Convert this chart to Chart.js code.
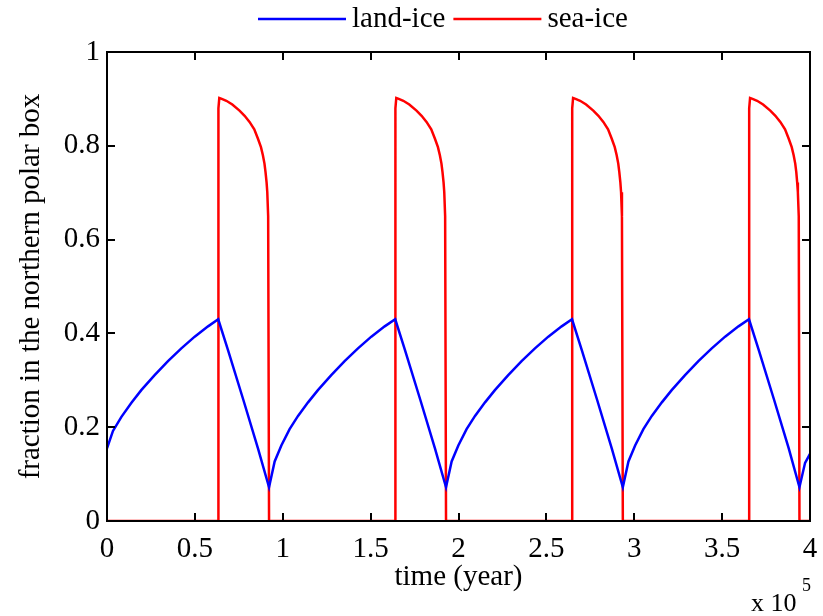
<!DOCTYPE html>
<html>
<head>
<meta charset="utf-8">
<script src="https://cdn.jsdelivr.net/npm/chart.js@4/dist/chart.umd.min.js"></script>
<style>
  html, body { margin: 0; padding: 0; background: #ffffff; }
  #wrap { width: 823px; height: 616px; position: relative; }
</style>
</head>
<body>
<div id="wrap"><canvas id="c" width="823" height="616"></canvas></div>
<script>
// ---- data (time in units of 10^5 years) ----
const seriesNames = ['land-ice', 'sea-ice'];
const seriesColors = ['#0000ff', '#ff0000'];

const landIceTime = [
  0.000, 0.034, 0.082, 0.139, 0.195, 0.271, 0.347, 0.423, 0.499, 0.575, 0.633,
  0.689, 0.776, 0.859, 0.922,
  0.954, 0.992, 1.039, 1.087, 1.144, 1.200, 1.276, 1.352, 1.428, 1.504, 1.580, 1.640,
  1.696, 1.783, 1.866, 1.929,
  1.961, 1.999, 2.046, 2.094, 2.151, 2.207, 2.283, 2.359, 2.435, 2.511, 2.587, 2.646,
  2.702, 2.789, 2.872, 2.935,
  2.967, 3.005, 3.052, 3.100, 3.157, 3.213, 3.289, 3.365, 3.441, 3.517, 3.593, 3.653,
  3.709, 3.796, 3.879, 3.940,
  3.972, 4.000
];
const landIceValue = [
  0.155, 0.192, 0.222, 0.252, 0.279, 0.311, 0.341, 0.368, 0.393, 0.415, 0.430,
  0.364, 0.258, 0.155, 0.072,
  0.127, 0.161, 0.196, 0.224, 0.253, 0.279, 0.311, 0.341, 0.368, 0.393, 0.415, 0.430,
  0.364, 0.258, 0.155, 0.072,
  0.127, 0.161, 0.196, 0.224, 0.253, 0.279, 0.311, 0.341, 0.368, 0.393, 0.415, 0.430,
  0.364, 0.258, 0.155, 0.072,
  0.127, 0.161, 0.196, 0.224, 0.253, 0.279, 0.311, 0.341, 0.368, 0.393, 0.415, 0.430,
  0.364, 0.258, 0.155, 0.072,
  0.124, 0.143
];

const seaIceTime = [
  0.000,
  0.633, 0.634, 0.639, 0.653, 0.679, 0.713, 0.754, 0.783, 0.811, 0.838, 0.859, 0.876, 0.887, 0.896, 0.902, 0.908, 0.912, 0.917, 0.922,
  1.640, 1.641, 1.646, 1.660, 1.686, 1.720, 1.761, 1.790, 1.818, 1.845, 1.866, 1.883, 1.894, 1.903, 1.909, 1.915, 1.919, 1.924, 1.929,
  2.646, 2.647, 2.652, 2.666, 2.692, 2.726, 2.767, 2.796, 2.824, 2.851, 2.872, 2.889, 2.900, 2.909, 2.915, 2.921, 2.925, 2.930, 2.935,
  3.653, 3.654, 3.659, 3.673, 3.699, 3.733, 3.774, 3.803, 3.831, 3.858, 3.879, 3.896, 3.907, 3.916, 3.922, 3.927, 3.931, 3.936, 3.940,
  4.000
];
const seaIceValue = [
  0,
  0, 0.880, 0.902, 0.900, 0.896, 0.888, 0.875, 0.864, 0.851, 0.835, 0.815, 0.797, 0.780, 0.762, 0.744, 0.722, 0.701, 0.650, 0,
  0, 0.880, 0.902, 0.900, 0.896, 0.888, 0.875, 0.864, 0.851, 0.835, 0.815, 0.797, 0.780, 0.762, 0.744, 0.722, 0.701, 0.650, 0,
  0, 0.880, 0.902, 0.900, 0.896, 0.888, 0.875, 0.864, 0.851, 0.835, 0.815, 0.797, 0.780, 0.762, 0.744, 0.722, 0.701, 0.650, 0,
  0, 0.880, 0.902, 0.900, 0.896, 0.888, 0.875, 0.864, 0.851, 0.835, 0.815, 0.797, 0.780, 0.762, 0.744, 0.722, 0.701, 0.650, 0,
  0
];

const xTickValues = [0, 0.5, 1, 1.5, 2, 2.5, 3, 3.5, 4];
const xTickLabels = ['0', '0.5', '1', '1.5', '2', '2.5', '3', '3.5', '4'];
const yTickValues = [0, 0.2, 0.4, 0.6, 0.8, 1];
const yTickLabels = ['0', '0.2', '0.4', '0.6', '0.8', '1'];

const xAxisTitle = 'time (year)';
const yAxisTitle = 'fraction in the northern polar box';
const xExponentBase = 'x 10';
const xExponentPower = '5';

// ---- build ----
const FONT = '"Liberation Serif", "Times New Roman", serif';
const toPoints = (xs, ys) => xs.map((v, i) => ({ x: v, y: ys[i] }));

function labelFor(values, labels, v) {
  for (let i = 0; i < values.length; i++) {
    if (Math.abs(values[i] - v) < 1e-9) return labels[i];
  }
  return '';
}

const framePlugin = {
  id: 'matlabFrame',
  afterDatasetsDraw(chart) {
    const { ctx, chartArea: a, scales } = chart;
    const xs = scales.x, ys = scales.y;
    const tl = 8;
    ctx.save();
    ctx.strokeStyle = '#000';
    ctx.lineWidth = 2;
    ctx.beginPath();
    xs.ticks.forEach(t => {
      const px = Math.round(xs.getPixelForValue(t.value));
      ctx.moveTo(px, a.bottom); ctx.lineTo(px, a.bottom - tl);
      ctx.moveTo(px, a.top); ctx.lineTo(px, a.top + tl);
    });
    ys.ticks.forEach(t => {
      const py = Math.round(ys.getPixelForValue(t.value));
      ctx.moveTo(a.left, py); ctx.lineTo(a.left + tl, py);
      ctx.moveTo(a.right, py); ctx.lineTo(a.right - tl, py);
    });
    ctx.stroke();
    ctx.strokeRect(a.left, a.top, a.right - a.left, a.bottom - a.top);
    ctx.restore();
  },
  afterDraw(chart) {
    const { ctx } = chart;
    ctx.save();
    // legend
    const lineLen = 88;
    let x = 258;
    const y = 19;
    ctx.font = '29px ' + FONT;
    ctx.textBaseline = 'middle';
    ctx.textAlign = 'left';
    chart.data.datasets.forEach((ds) => {
      ctx.strokeStyle = ds.borderColor;
      ctx.lineWidth = 2.5;
      ctx.beginPath();
      ctx.moveTo(x, y); ctx.lineTo(x + lineLen, y);
      ctx.stroke();
      x += lineLen + 6;
      ctx.fillStyle = '#000';
      ctx.fillText(ds.label, x, y);
      x += ctx.measureText(ds.label).width + 8;
    });
    // exponent label
    ctx.textBaseline = 'alphabetic';
    ctx.font = '26px ' + FONT;
    ctx.fillText(xExponentBase, 751, 611);
    ctx.font = '18px ' + FONT;
    ctx.fillText(xExponentPower, 802, 591);
    ctx.restore();
  }
};

new Chart(document.getElementById('c'), {
  type: 'line',
  data: {
    datasets: [
      {
        label: seriesNames[0],
        data: toPoints(landIceTime, landIceValue),
        borderColor: seriesColors[0],
        backgroundColor: seriesColors[0],
        borderWidth: 2.5,
        pointRadius: 0,
        tension: 0,
        fill: false
      },
      {
        label: seriesNames[1],
        data: toPoints(seaIceTime, seaIceValue),
        borderColor: seriesColors[1],
        backgroundColor: seriesColors[1],
        borderWidth: 2.5,
        pointRadius: 0,
        tension: 0,
        fill: false
      }
    ]
  },
  options: {
    responsive: false,
    animation: false,
    events: [],
    layout: { padding: { top: 52, right: 13, bottom: 0, left: 0 } },
    plugins: {
      legend: { display: false },
      tooltip: { enabled: false },
      title: { display: false }
    },
    scales: {
      x: {
        type: 'linear',
        min: 0, max: 4,
        afterBuildTicks(scale) { scale.ticks = xTickValues.map(v => ({ value: v })); },
        afterFit(scale) { scale.height = 95; scale.paddingLeft = 0; scale.paddingRight = 0; },
        grid: { display: false, drawTicks: false },
        border: { display: false },
        ticks: {
          padding: 11,
          color: '#000',
          font: { family: FONT, size: 29 },
          maxRotation: 0,
          autoSkip: false,
          callback: (v) => labelFor(xTickValues, xTickLabels, v)
        },
        title: {
          display: true,
          text: xAxisTitle,
          color: '#000',
          font: { family: FONT, size: 29 },
          padding: { top: 0, bottom: 21 }
        }
      },
      y: {
        type: 'linear',
        min: 0, max: 1,
        afterBuildTicks(scale) { scale.ticks = yTickValues.map(v => ({ value: v })); },
        afterFit(scale) { scale.width = 107; scale.paddingTop = 0; scale.paddingBottom = 0; },
        grid: { display: false, drawTicks: false },
        border: { display: false },
        ticks: {
          padding: 7,
          color: '#000',
          font: { family: FONT, size: 29 },
          autoSkip: false,
          callback: (v) => labelFor(yTickValues, yTickLabels, v)
        },
        title: {
          display: true,
          text: yAxisTitle,
          color: '#000',
          font: { family: FONT, size: 29 },
          padding: { top: 14, bottom: 0 }
        }
      }
    }
  },
  plugins: [framePlugin]
});
</script>
</body>
</html>
